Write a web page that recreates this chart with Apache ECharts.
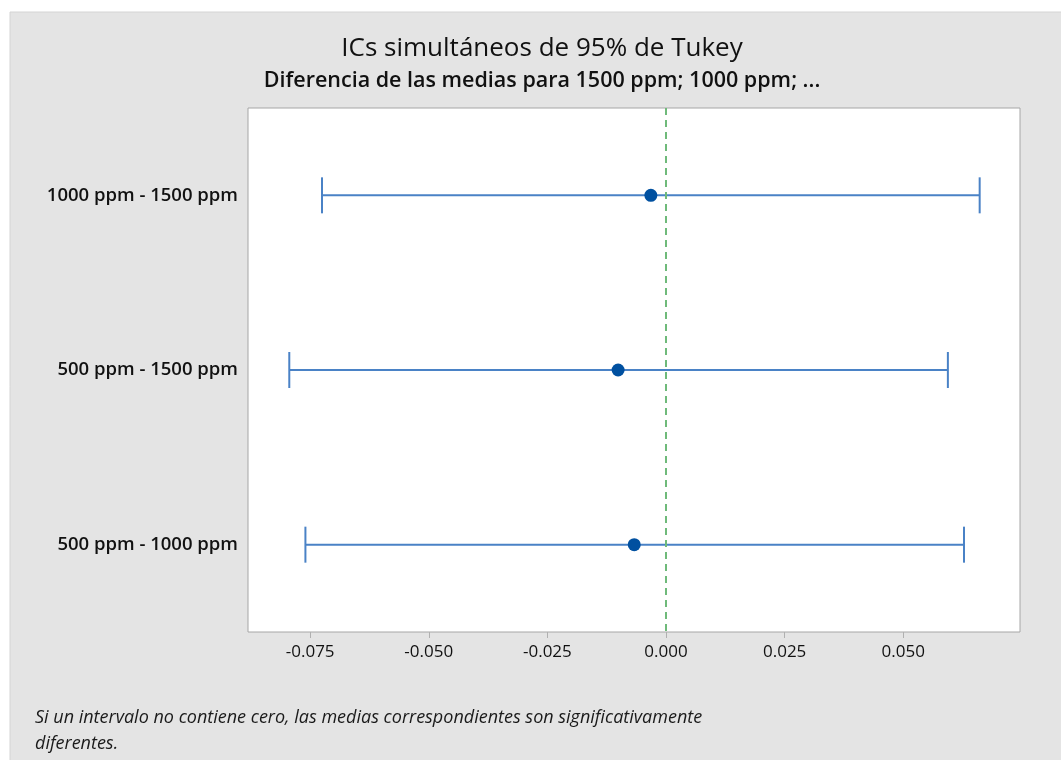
<!DOCTYPE html>
<html><head><meta charset="utf-8">
<script src="https://cdn.jsdelivr.net/npm/echarts@6/dist/echarts.min.js"></script>
<style>html,body{margin:0;padding:0;background:#fff;}#c{width:1061px;height:760px;}</style>
</head><body><div id="c"></div>
<script>
const categories = ["1000 ppm - 1500 ppm", "500 ppm - 1500 ppm", "500 ppm - 1000 ppm"];
const lowerBounds = [-0.0725, -0.0794, -0.0760];
const centers = [-0.0032, -0.0101, -0.0067];
const upperBounds = [0.0661, 0.0594, 0.0628];
const xTicks = [-0.075, -0.05, -0.025, 0, 0.025, 0.05];

const fontFam = '"Open Sans", "Noto Sans", sans-serif';
const chart = echarts.init(document.getElementById('c'));
const intervals = categories.map((c, i) => [i, lowerBounds[i], upperBounds[i]]);
const points = categories.map((c, i) => [centers[i], i]);

chart.setOption({
  backgroundColor: '#ffffff',
  animation: false,
  graphic: [
    {type: 'rect', z: -10, shape: {x: 10, y: 12, width: 1060, height: 760}, style: {fill: '#e4e4e4', stroke: '#d4d4d4', lineWidth: 1}},
    {type: 'text', left: 35, top: 705, style: {text: 'Si un intervalo no contiene cero, las medias correspondientes son significativamente\ndiferentes.', fontFamily: fontFam, fontStyle: 'italic', fontSize: 18, lineHeight: 26, fill: '#1a1a1a'}}
  ],
  title: {
    text: 'ICs simultáneos de 95% de Tukey',
    subtext: 'Diferencia de las medias para 1500 ppm; 1000 ppm; ...',
    left: 537, textAlign: 'center', top: 31, itemGap: 8,
    textStyle: {fontFamily: fontFam, fontSize: 26, fontWeight: 'normal', color: '#111'},
    subtextStyle: {fontFamily: fontFam, fontSize: 21.5, fontWeight: 600, color: '#111'}
  },
  grid: {left: 248, right: 41, top: 108, bottom: 128, show: true, backgroundColor: '#ffffff', borderColor: '#a6a6a6', borderWidth: 1},
  xAxis: {
    type: 'value', min: -0.0881, max: 0.0746,
    splitLine: {show: false},
    axisLine: {show: false},
    axisTick: {show: true, customValues: xTicks, length: 6, lineStyle: {color: '#b0b0b0'}},
    axisLabel: {customValues: xTicks, formatter: v => v.toFixed(3), fontFamily: fontFam, fontSize: 17, color: '#111', margin: 12}
  },
  yAxis: {
    type: 'category', data: categories, inverse: true,
    axisLine: {show: false},
    axisTick: {show: true, alignWithLabel: true, length: 6, lineStyle: {color: '#b0b0b0'}},
    axisLabel: {fontFamily: fontFam, fontSize: 18.5, fontWeight: 600, color: '#111', margin: 10},
    splitLine: {show: false}
  },
  series: [
    {
      type: 'custom',
      data: intervals,
      encode: {x: [1, 2], y: 0},
      renderItem: function (params, api) {
        const lo = api.coord([api.value(1), api.value(0)]);
        const hi = api.coord([api.value(2), api.value(0)]);
        const st = {stroke: '#4a82c6', lineWidth: 2};
        return {type: 'group', children: [
          {type: 'line', shape: {x1: lo[0], y1: lo[1], x2: hi[0], y2: hi[1]}, style: st},
          {type: 'line', shape: {x1: lo[0], y1: lo[1] - 18, x2: lo[0], y2: lo[1] + 18}, style: st},
          {type: 'line', shape: {x1: hi[0], y1: hi[1] - 18, x2: hi[0], y2: hi[1] + 18}, style: st}
        ]};
      },
      markLine: {
        silent: true, symbol: 'none', label: {show: false},
        lineStyle: {color: '#6fba7a', type: [7, 5], width: 2},
        data: [{xAxis: 0}]
      }
    },
    {
      type: 'scatter', data: points, symbol: 'circle', symbolSize: 13,
      itemStyle: {color: '#0050a0', opacity: 1}, z: 5
    }
  ]
});
</script></body></html>
